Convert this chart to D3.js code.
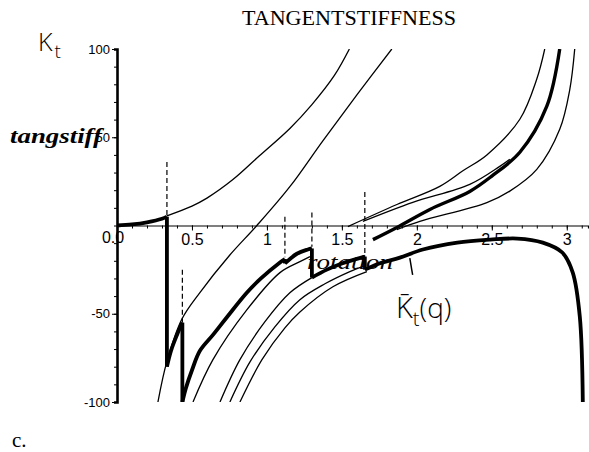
<!DOCTYPE html>
<html><head><meta charset="utf-8">
<script src="https://cdn.jsdelivr.net/npm/d3@7"></script>
<style>
html,body{margin:0;padding:0;background:#fff;}
svg{display:block;}
</style></head>
<body>
<svg id="c" width="589" height="452"></svg>
<script>
// ---------- data ----------
const titleText = "TANGENTSTIFFNESS";
const xMajorTicks = [0.5, 1, 1.5, 2, 2.5, 3];
const xTickLabels = ["0.5", "1", "1.5", "2", "2.5", "3"];
const yMajorTicks = [-100, -50, 50, 100];
const yTickLabels = ["-100", "-50", "50", "100"];
const xMinorTicks = d3.range(1, 32).map(i => i / 10);
const yMinorTicks = d3.range(-10, 11).map(i => i * 10);

// bold path (actual response) with vertical drops
const thickPath = [[0,0],[0.1,0.6],[0.2,1.8],[0.3,3.8],[0.333,5],[0.333,-80],[0.36,-71],[0.4,-62],[0.436,-55],[0.436,-100],[0.46,-92],[0.5,-82],[0.553,-71],[0.64,-62],[0.733,-52],[0.867,-38],[0.96,-30],[1.087,-21],[1.12,-19],[1.12,-21.5],[1.2,-16],[1.273,-13.6],[1.3,-13],[1.3,-29.5],[1.4,-25],[1.5,-21.5],[1.653,-17.6],[1.653,-25],[1.75,-21.5],[1.887,-18.2],[2.04,-13.6],[2.27,-9.7],[2.49,-8],[2.67,-7.4],[2.84,-9.7],[2.97,-15.3],[3.04,-26.7],[3.087,-51.7],[3.107,-100]];
// bold upper-right branch
const thickUpper = [[1.707,-8],[1.867,-1.1],[2.087,9.1],[2.353,19.3],[2.5,28],[2.687,41.5],[2.867,67.6],[2.953,100]];
// thin branches
const branchA = [[0.333,5.5],[0.5,11],[0.6,15.5],[0.773,26],[0.95,39.5],[1.153,55],[1.3,68.5],[1.45,85],[1.55,100]];
const branchB = [[0.273,-100],[0.333,-77],[0.433,-53],[0.553,-38],[0.75,-17],[0.933,0],[1.153,22],[1.373,48],[1.6,74],[1.833,100]];
const branchC1 = [[0.507,-100],[0.64,-76],[0.867,-47.7],[1.087,-26.7],[1.22,-20.5],[1.287,-17.6]];
const branchC2 = [[0.687,-100],[0.82,-76],[0.987,-54.5],[1.153,-38.1],[1.3,-29.5]];
const branchC3 = [[0.753,-100],[0.887,-77.3],[1.053,-57.4],[1.22,-42],[1.387,-33],[1.553,-26.1],[1.653,-22.7]];
const branchC4 = [[0.82,-100],[0.967,-76],[1.12,-58],[1.22,-49],[1.44,-34.7],[1.667,-26.1]];
const branchD = [[1.54,-0.6],[1.867,11.9],[2.153,22.2],[2.307,31],[2.467,40],[2.687,60.2],[2.8,83],[2.853,100]];
const branchE = [[1.64,2.3],[1.973,13.1],[2.353,23.3],[2.553,33.5],[2.62,37.5]];
const branchG = [[1.867,-2.3],[2.02,2.3],[2.467,13],[2.62,19.5],[2.8,31.8],[2.953,54.5],[3.02,77],[3.053,100]];
// dashed switching markers: [x, yTop, yBottom]
const switchMarks = [[0.333,36,5],[0.436,-25,-55],[1.12,5,-18],[1.3,7.4,-12],[1.653,19,-17]];
// small pointer stroke under the bold curve
const pointerStroke = [[1.953,-18.5],[1.962,-23],[1.972,-28]];

// ---------- drawing ----------
const svg = d3.select("#c");
const x = d3.scaleLinear().domain([0, 3.1416]).range([117, 588]);
const y = d3.scaleLinear().domain([-100, 100]).range([402, 49]);

svg.append("defs").append("clipPath").attr("id","plot")
  .append("rect").attr("x",x(0)).attr("y",y(100)).attr("width",x(3.1416)-x(0)).attr("height",y(-100)-y(100));

const g = svg.append("g").attr("clip-path","url(#plot)");
const smooth = d3.line().x(d=>x(d[0])).y(d=>y(d[1])).curve(d3.curveCatmullRom.alpha(0.5));
const straight = d3.line().x(d=>x(d[0])).y(d=>y(d[1]));

[branchA, branchB, branchC1, branchC2, branchC3, branchC4, branchD, branchE, branchG].forEach(b => {
  g.append("path").attr("d", smooth(b)).attr("fill","none").attr("stroke","#000").attr("stroke-width",1.3);
});

function drawThick(pts, w) {
  let piece = [pts[0]];
  for (let i = 1; i < pts.length; i++) {
    if (pts[i][0] === pts[i-1][0]) {
      if (piece.length > 1) g.append("path").attr("d", smooth(piece)).attr("fill","none").attr("stroke","#000").attr("stroke-width",w).attr("stroke-linejoin","round");
      g.append("path").attr("d", straight([pts[i-1], pts[i]])).attr("fill","none").attr("stroke","#000").attr("stroke-width",w);
      piece = [pts[i]];
    } else piece.push(pts[i]);
  }
  if (piece.length > 1) g.append("path").attr("d", smooth(piece)).attr("fill","none").attr("stroke","#000").attr("stroke-width",w).attr("stroke-linejoin","round");
}
drawThick(thickPath, 3.8);
drawThick(thickUpper, 3.4);

switchMarks.forEach(m => {
  g.append("line").attr("x1",x(m[0])).attr("x2",x(m[0])).attr("y1",y(m[1])).attr("y2",y(m[2]))
    .attr("stroke","#000").attr("stroke-width",1.2).attr("stroke-dasharray","5,3");
});
svg.append("path").attr("d", smooth(pointerStroke)).attr("fill","none").attr("stroke","#000").attr("stroke-width",1.5);

// axes
const xAxisMinor = d3.axisBottom(x).tickValues(xMinorTicks).tickSize(3).tickFormat("");
svg.append("g").attr("transform",`translate(0,${y(0)})`).call(xAxisMinor)
  .call(s => s.select(".domain").attr("stroke-width",1.2));
const xAxisMajor = d3.axisBottom(x).tickValues(xMajorTicks).tickSize(5).tickPadding(3)
  .tickFormat((d,i) => xTickLabels[i]);
svg.append("g").attr("transform",`translate(0,${y(0)})`).call(xAxisMajor)
  .call(s => s.select(".domain").remove())
  .call(s => s.selectAll("text").attr("font-family","'Liberation Sans', Arial, sans-serif").attr("font-size",16).attr("fill","#000"));

const yAxisMinor = d3.axisLeft(y).tickValues(yMinorTicks).tickSize(3).tickFormat("");
svg.append("g").attr("transform",`translate(${x(0)},0)`).call(yAxisMinor)
  .call(s => s.select(".domain").attr("stroke-width",2.6));
const yAxisMajor = d3.axisLeft(y).tickValues(yMajorTicks).tickSize(5).tickPadding(2)
  .tickFormat((d,i) => yTickLabels[i]);
svg.append("g").attr("transform",`translate(${x(0)},0)`).call(yAxisMajor)
  .call(s => s.select(".domain").remove())
  .call(s => s.selectAll("text").attr("font-family","'Liberation Sans', Arial, sans-serif").attr("font-size",13).attr("fill","#000"));

// origin label
svg.append("text").attr("x",x(0)-4).attr("y",y(0)+17).attr("text-anchor","middle")
  .attr("font-family","'Liberation Sans', Arial, sans-serif").attr("font-size",16).text("0.0");

// title
svg.append("text").attr("x",349).attr("y",25).attr("text-anchor","middle")
  .attr("font-family","'Liberation Serif','Times New Roman',serif").attr("font-size",20)
  .attr("textLength",214).attr("lengthAdjust","spacingAndGlyphs").text(titleText);

// axis captions (handwritten/italic)
const hand = "'DejaVu Sans ExtraLight','Open Sans','DejaVu Sans',sans-serif";
const kt = svg.append("text").attr("x",38).attr("y",51).attr("font-family",hand).attr("font-weight",300).attr("font-size",25);
kt.append("tspan").text("K");
kt.append("tspan").attr("dy",7).attr("dx",2).attr("font-size",19).text("t");

svg.append("text").attr("x",10).attr("y",143)
  .attr("font-family","'Liberation Serif','Times New Roman',serif").attr("font-style","italic").attr("font-weight","bold").attr("font-size",22)
  .attr("textLength",92).attr("lengthAdjust","spacingAndGlyphs").text("tangstiff");

svg.append("text").attr("x",307).attr("y",269)
  .attr("font-family","'Liberation Serif','Times New Roman',serif").attr("font-style","italic").attr("font-size",22)
  .attr("textLength",86).attr("lengthAdjust","spacingAndGlyphs").text("rotation");

const kq = svg.append("text").attr("x",396).attr("y",318).attr("font-family",hand).attr("font-weight",300).attr("font-size",29);
kq.append("tspan").text("K\u0304");
kq.append("tspan").attr("dy",8).attr("font-size",20).text("t");
kq.append("tspan").attr("dy",-8).attr("font-size",28).text("(q)");

svg.append("text").attr("x",12).attr("y",447)
  .attr("font-family","'Liberation Serif','Times New Roman',serif").attr("font-size",21).text("c.");
</script>
</body></html>
